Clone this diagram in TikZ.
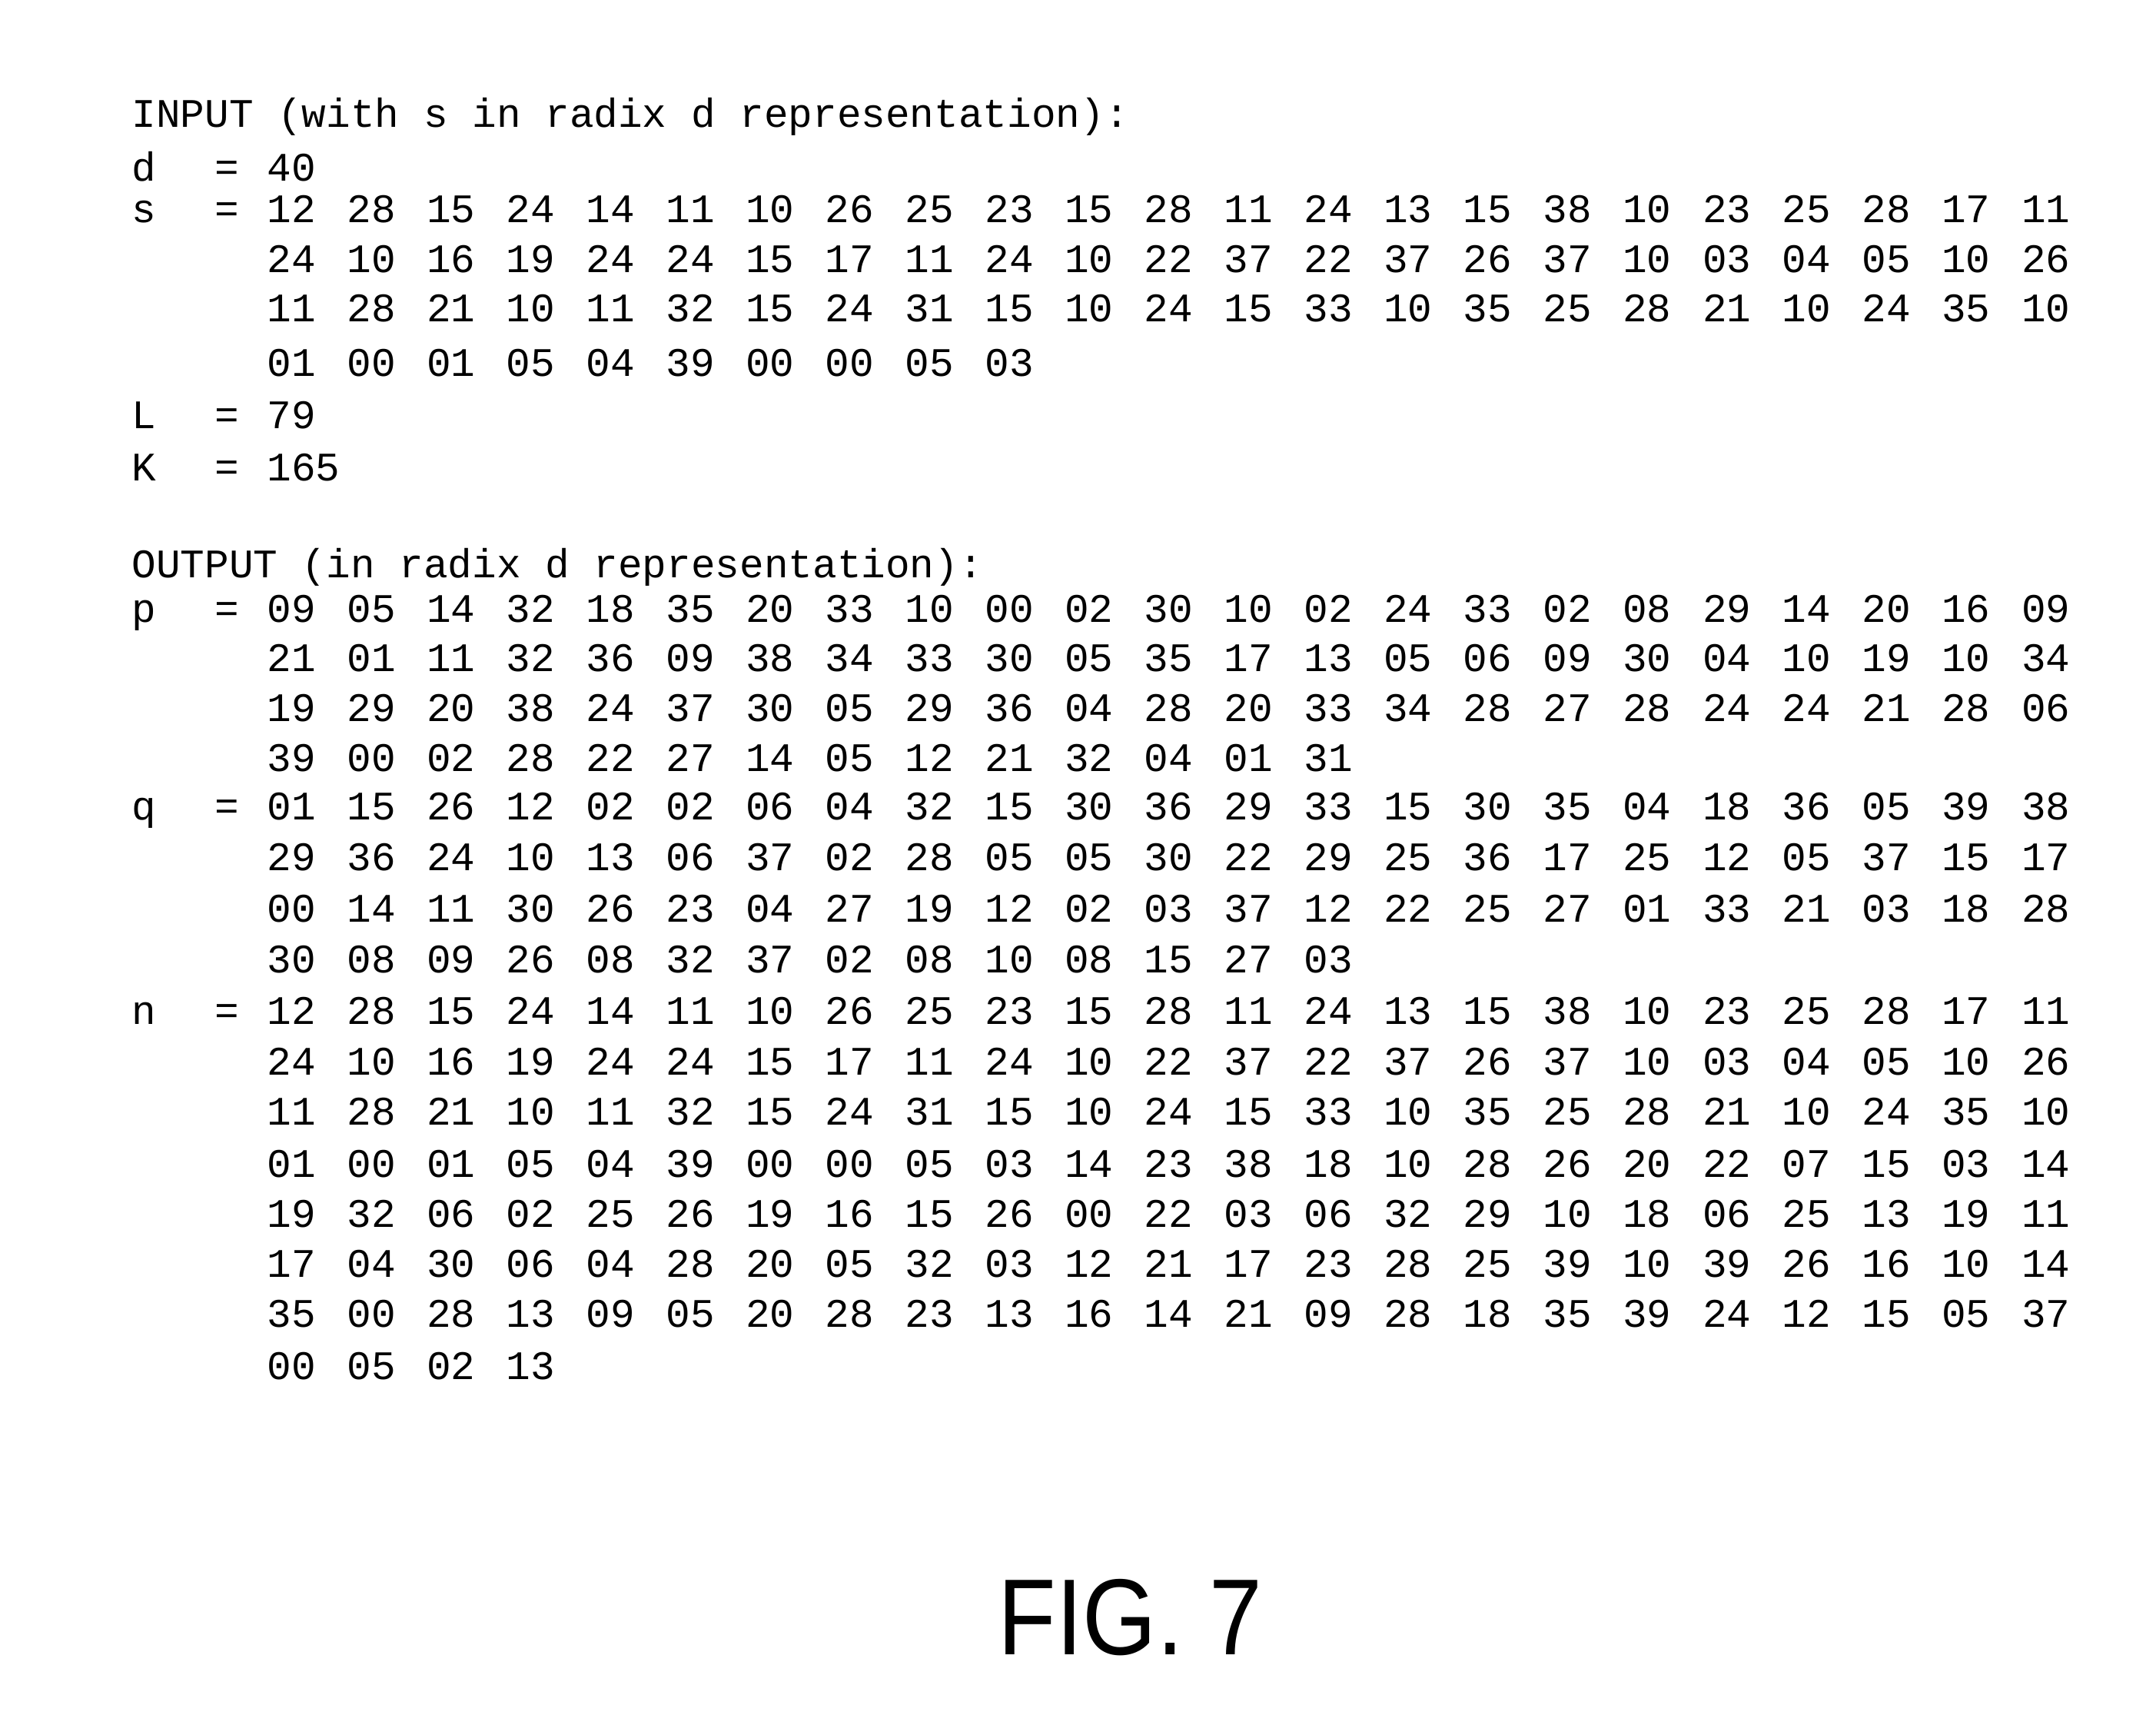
\documentclass[tikz,border=0pt]{standalone}
\usepackage{fontspec}
\setmonofont{Liberation Mono}
\setsansfont{Liberation Sans}
\begin{document}
\begin{tikzpicture}[x=0.01798cm,y=-0.01798cm,
  txt/.style={anchor=base west,inner sep=0pt,font=\ttfamily\fontsize{15}{15}\selectfont}]
\useasboundingbox (0,0) rectangle (1560.1,1255.3);
\newcommand{\numrow}[3]{\foreach \v [count=\i] in {#3} {\node[txt] (#1\i) at ({193+(\i-1)*57.7},#2) {\v};}}
\node[txt] (input) at (95,92) {INPUT (with s in radix d representation):};
\node[txt] (dl) at (95,131) {d};\node[txt] (de) at (155,131) {=};\node[txt] (dv) at (193,131) {40};
\node[txt] (sl) at (95,161) {s};\node[txt] (se) at (155,161) {=};
\numrow{sa}{161}{12,28,15,24,14,11,10,26,25,23,15,28,11,24,13,15,38,10,23,25,28,17,11}
\numrow{sb}{197}{24,10,16,19,24,24,15,17,11,24,10,22,37,22,37,26,37,10,03,04,05,10,26}
\numrow{sc}{233}{11,28,21,10,11,32,15,24,31,15,10,24,15,33,10,35,25,28,21,10,24,35,10}
\numrow{sd}{272}{01,00,01,05,04,39,00,00,05,03}
\node[txt] (ll) at (95,310) {L};\node[txt] (le) at (155,310) {=};\node[txt] (lv) at (193,310) {79};
\node[txt] (kl) at (95,348) {K};\node[txt] (ke) at (155,348) {=};\node[txt] (kv) at (193,348) {165};
\node[txt] (output) at (95,418) {OUTPUT (in radix d representation):};
\node[txt] (pl) at (95,450) {p};\node[txt] (pe) at (155,450) {=};
\numrow{pa}{450}{09,05,14,32,18,35,20,33,10,00,02,30,10,02,24,33,02,08,29,14,20,16,09}
\numrow{pb}{486}{21,01,11,32,36,09,38,34,33,30,05,35,17,13,05,06,09,30,04,10,19,10,34}
\numrow{pc}{522}{19,29,20,38,24,37,30,05,29,36,04,28,20,33,34,28,27,28,24,24,21,28,06}
\numrow{pd}{558}{39,00,02,28,22,27,14,05,12,21,32,04,01,31}
\node[txt] (ql) at (95,593) {q};\node[txt] (qe) at (155,593) {=};
\numrow{qa}{593}{01,15,26,12,02,02,06,04,32,15,30,36,29,33,15,30,35,04,18,36,05,39,38}
\numrow{qb}{630}{29,36,24,10,13,06,37,02,28,05,05,30,22,29,25,36,17,25,12,05,37,15,17}
\numrow{qc}{667}{00,14,11,30,26,23,04,27,19,12,02,03,37,12,22,25,27,01,33,21,03,18,28}
\numrow{qd}{704}{30,08,09,26,08,32,37,02,08,10,08,15,27,03}
\node[txt] (nl) at (95,741) {n};\node[txt] (ne) at (155,741) {=};
\numrow{na}{741}{12,28,15,24,14,11,10,26,25,23,15,28,11,24,13,15,38,10,23,25,28,17,11}
\numrow{nb}{778}{24,10,16,19,24,24,15,17,11,24,10,22,37,22,37,26,37,10,03,04,05,10,26}
\numrow{nc}{814}{11,28,21,10,11,32,15,24,31,15,10,24,15,33,10,35,25,28,21,10,24,35,10}
\numrow{nd}{852}{01,00,01,05,04,39,00,00,05,03,14,23,38,18,10,28,26,20,22,07,15,03,14}
\numrow{ne}{888}{19,32,06,02,25,26,19,16,15,26,00,22,03,06,32,29,10,18,06,25,13,19,11}
\numrow{nf}{924}{17,04,30,06,04,28,20,05,32,03,12,21,17,23,28,25,39,10,39,26,16,10,14}
\numrow{ng}{960}{35,00,28,13,09,05,20,28,23,13,16,14,21,09,28,18,35,39,24,12,15,05,37}
\numrow{nh}{998}{00,05,02,13}
\node[anchor=base,inner sep=0pt,font=\sffamily\fontsize{40}{40}\selectfont,xscale=0.88] (fig) at (818,1197) {FIG. 7};
\end{tikzpicture}
\end{document}
